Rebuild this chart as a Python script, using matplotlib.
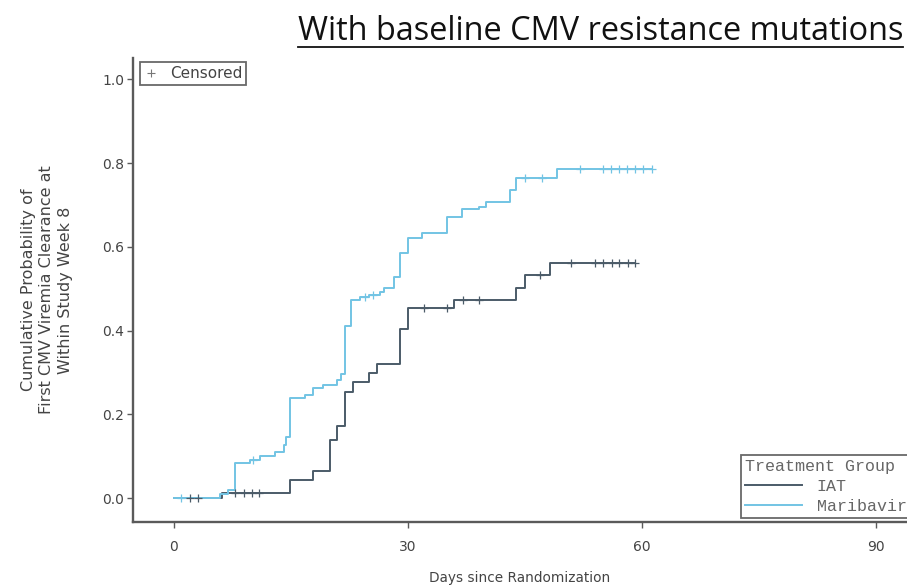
import numpy as np
import matplotlib
matplotlib.use("Agg")
import matplotlib.pyplot as plt
from matplotlib.lines import Line2D

# Kaplan-Meier style cumulative clearance estimates (event day, cumulative probability)
maribavir_days = [0, 6.0, 7.0, 7.9, 9.8, 11.1, 13.0, 14.1, 14.4, 14.9, 16.9, 17.9,
                  19.2, 20.9, 21.4, 22.0, 22.8, 23.9, 25.0, 26.5, 27.0, 28.2, 29.0,
                  30.1, 31.9, 35.0, 37.0, 39.1, 40.1, 43.1, 43.9, 49.1]
maribavir_prob = [0, 0.010, 0.020, 0.083, 0.092, 0.100, 0.110, 0.127, 0.146, 0.239,
                  0.246, 0.263, 0.270, 0.282, 0.296, 0.410, 0.473, 0.481, 0.485,
                  0.493, 0.501, 0.529, 0.585, 0.621, 0.632, 0.672, 0.690, 0.696,
                  0.706, 0.736, 0.764, 0.785]
maribavir_last_day = 61.3
maribavir_censored = [1.0, 10.2, 24.5, 25.6, 45.0, 47.2, 52.1, 55.0, 56.0, 57.1,
                      58.1, 59.2, 60.2, 61.3]

iat_days = [0, 6.2, 14.9, 17.9, 20.1, 20.9, 22.0, 23.0, 25.0, 26.1, 29.0, 30.1,
            36.0, 43.9, 45.0, 48.2]
iat_prob = [0, 0.013, 0.043, 0.064, 0.139, 0.172, 0.254, 0.278, 0.298, 0.320,
            0.405, 0.453, 0.474, 0.501, 0.533, 0.561]
iat_last_day = 59.1
iat_censored = [2.1, 3.1, 7.9, 9.0, 10.0, 10.9, 32.1, 35.0, 37.1, 39.1, 47.0, 51.0,
                54.0, 55.1, 56.2, 57.1, 58.2, 59.1]

groups = ["IAT", "Maribavir"]
x_ticks = [0, 30, 60, 90]
y_ticks = [0.0, 0.2, 0.4, 0.6, 0.8, 1.0]

colors = {"IAT": "#4b5b68", "Maribavir": "#72c4e4"}
text_gray = "#444444"

W, H = 907, 588
fig = plt.figure(figsize=(W / 100, H / 100), dpi=100)
fig.patch.set_facecolor("white")

ax_left, ax_right, ax_top, ax_bottom = 133, 907, 58, 522
ax = fig.add_axes([ax_left / W, 1 - ax_bottom / H,
                   (ax_right - ax_left) / W, (ax_bottom - ax_top) / H])

series = {
    "IAT": (iat_days, iat_prob, iat_last_day, iat_censored),
    "Maribavir": (maribavir_days, maribavir_prob, maribavir_last_day, maribavir_censored),
}

for name in groups:
    days, prob, last_day, cens = series[name]
    d = np.append(days, last_day)
    p = np.append(prob, prob[-1])
    ax.step(d, p, where="post", color=colors[name], lw=1.4, zorder=3)
    idx = np.searchsorted(days, cens, side="right") - 1
    cy = np.asarray(prob)[idx]
    ax.plot(cens, cy, ls="none", marker="+", ms=5.5, mew=0.9,
            color=colors[name], zorder=4)

ax.set_xlim(-5.2, 94.0)
ax.set_ylim(-0.057, 1.051)
ax.set_xticks(x_ticks)
ax.set_yticks(y_ticks)
ax.set_yticklabels([f"{v:.1f}" for v in y_ticks])

for s in ("top", "right"):
    ax.spines[s].set_visible(False)
for s in ("left", "bottom"):
    ax.spines[s].set_color("#5a5a5a")
    ax.spines[s].set_linewidth(1.7)
ax.tick_params(axis="both", direction="out", length=4, width=1.0, color="#5a5a5a",
               labelsize=10, labelcolor=text_gray, pad=2.5)
ax.tick_params(axis="x", pad=9)

ax.set_xlabel("Days since Randomization", fontsize=9.8, color=text_gray, labelpad=12)
ax.set_ylabel("Cumulative Probability of\nFirst CMV Viremia Clearance at\nWithin Study Week 8",
              fontsize=11.5, color=text_gray, labelpad=21, linespacing=1.3)

# censoring legend (top-left)
cens_handle = Line2D([], [], ls="none", marker="+", ms=6, mew=0.8, color="#777777")
leg1 = ax.legend([cens_handle], ["Censored"], loc="upper left",
                 bbox_to_anchor=(0.009, 0.991), borderaxespad=0, frameon=True,
                 fancybox=False, edgecolor="#444444", fontsize=11,
                 handlelength=0.9, handletextpad=0.8, borderpad=0.25,
                 labelcolor=text_gray)
leg1.get_frame().set_linewidth(1.3)
ax.add_artist(leg1)

# treatment group legend (bottom-right)
handles = [Line2D([], [], color=colors[g], lw=1.4) for g in groups]
leg2 = ax.legend(handles, groups, title="Treatment Group", loc="lower left",
                 bbox_to_anchor=((741 - ax_left) / (ax_right - ax_left),
                                 (ax_bottom - 518) / (ax_bottom - ax_top)),
                 borderaxespad=0, frameon=True, fancybox=False,
                 edgecolor="#444444", handlelength=3.4, handletextpad=0.9,
                 borderpad=0.25, labelspacing=0.3, alignment="left",
                 prop={"family": "Liberation Mono", "size": 12},
                 title_fontproperties={"family": "Liberation Mono", "size": 12},
                 labelcolor="#666666")
leg2.get_title().set_color("#666666")
leg2.get_frame().set_linewidth(1.3)

# heading with underline
title = fig.text(903 / W, 1 - 40 / H, "With baseline CMV resistance mutations",
                 ha="right", va="baseline", fontsize=23.4, family="Open Sans",
                 color="#111111")
fig.canvas.draw()
bb = title.get_window_extent(renderer=fig.canvas.get_renderer())
uy = 1 - 47 / H
fig.add_artist(Line2D([bb.x0 / W, bb.x1 / W], [uy, uy], transform=fig.transFigure,
                      color="#111111", lw=1.3))

fig.savefig("out.png", dpi=100)
